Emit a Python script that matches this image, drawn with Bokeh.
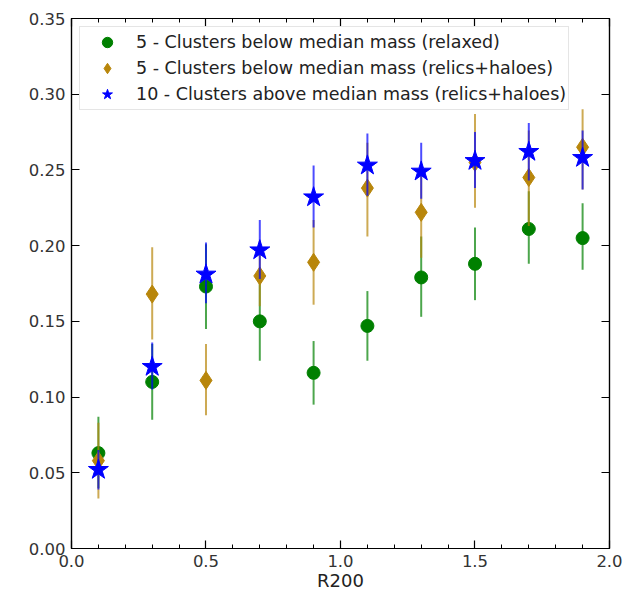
from bokeh.plotting import figure
from bokeh.models import (ColumnDataSource, LinearAxis, SingleIntervalTicker,
                          PrintfTickFormatter, CustomJSTickFormatter, Range1d,
                          Legend, LegendItem)
from bokeh.embed import file_html
from bokeh.resources import INLINE

# ---- data ----
r200 = [0.1, 0.3, 0.5, 0.7, 0.9, 1.1, 1.3, 1.5, 1.7, 1.9]

relaxed_y = [0.063, 0.110, 0.173, 0.150, 0.116, 0.147, 0.179, 0.188, 0.211, 0.205]
relaxed_lo = [0.040, 0.085, 0.145, 0.124, 0.095, 0.124, 0.153, 0.164, 0.188, 0.184]
relaxed_hi = [0.087, 0.135, 0.201, 0.176, 0.137, 0.170, 0.206, 0.212, 0.236, 0.228]

relics_low_y = [0.058, 0.168, 0.111, 0.180, 0.189, 0.238, 0.222, 0.255, 0.245, 0.265]
relics_low_lo = [0.033, 0.138, 0.088, 0.160, 0.161, 0.206, 0.192, 0.225, 0.213, 0.237]
relics_low_hi = [0.083, 0.199, 0.135, 0.203, 0.217, 0.268, 0.252, 0.287, 0.276, 0.290]

relics_high_y = [0.052, 0.120, 0.181, 0.197, 0.232, 0.253, 0.249, 0.256, 0.262, 0.258]
relics_high_lo = [0.039, 0.105, 0.162, 0.178, 0.212, 0.233, 0.231, 0.238, 0.243, 0.237]
relics_high_hi = [0.065, 0.136, 0.202, 0.217, 0.253, 0.274, 0.268, 0.275, 0.281, 0.276]

labels = ["5 - Clusters below median mass (relaxed)",
          "5 - Clusters below median mass (relics+haloes)",
          "10 - Clusters above median mass (relics+haloes)"]

x_ticks_interval = 0.5
y_ticks_interval = 0.05

FONT = "DejaVu Sans"

p = figure(width=630, height=593, output_backend="svg", toolbar_location=None,
           x_range=Range1d(0, 2.000001), y_range=Range1d(0, 0.3500001),
           min_border_left=71, min_border_right=21, min_border_top=18,
           min_border_bottom=43)
p.xaxis.visible = False
p.yaxis.visible = False
p.grid.visible = False
p.outline_line_color = "black"
p.outline_line_width = 1.2
p.background_fill_color = "white"
p.border_fill_color = "white"


def make_axis(kind, show_labels):
    if kind == "x":
        ticker = SingleIntervalTicker(interval=x_ticks_interval, num_minor_ticks=5)
        fmt = "%.1f"
    else:
        ticker = SingleIntervalTicker(interval=y_ticks_interval, num_minor_ticks=0)
        fmt = "%.2f"
    if show_labels:
        formatter = PrintfTickFormatter(format=fmt)
    else:
        formatter = CustomJSTickFormatter(code="return ''")
    ax = LinearAxis(ticker=ticker, formatter=formatter)
    ax.major_tick_in = 8
    ax.major_tick_out = 0
    ax.minor_tick_in = 4
    ax.minor_tick_out = 0
    ax.axis_line_color = "black"
    ax.axis_line_width = 1.2
    ax.major_tick_line_width = 1.2
    ax.major_tick_line_color = "black"
    ax.minor_tick_line_color = "black"
    if kind == "y":
        ax.minor_tick_line_color = None
    ax.major_label_text_font = FONT
    ax.major_label_text_font_size = "16.5px"
    ax.major_label_text_color = "#333333"
    ax.major_label_standoff = 6 if show_labels else 0
    return ax


bottom = make_axis("x", True)
bottom.axis_label = "R200"
bottom.axis_label_text_font = FONT
bottom.axis_label_text_font_size = "18px"
bottom.axis_label_text_font_style = "normal"
bottom.axis_label_text_color = "#222222"
bottom.axis_label_standoff = 0
p.add_layout(bottom, "below")
p.add_layout(make_axis("y", True), "left")
p.add_layout(make_axis("x", False), "above")
p.add_layout(make_axis("y", False), "right")

series = [
    (relaxed_y, relaxed_lo, relaxed_hi, "green", "circle", 13),
    (relics_low_y, relics_low_lo, relics_low_hi, "#b8860b", "diamond", 18),
    (relics_high_y, relics_high_lo, relics_high_hi, "blue", "star", 21),
]

items = []
for (yv, lo, hi, color, marker, size), label in zip(series, labels):
    src = ColumnDataSource(dict(x=r200, y=yv, lo=lo, hi=hi))
    p.segment(x0="x", y0="lo", x1="x", y1="hi", source=src,
              line_color=color, line_width=2, line_alpha=0.7)
    r = p.scatter(x="x", y="y", source=src, marker=marker, size=size,
                  fill_color=color, line_color=color, line_width=1)
    items.append(LegendItem(label=label, renderers=[r]))

legend = Legend(items=items, location="top_left")
legend.margin = 8
legend.padding = 2
legend.spacing = 0
legend.label_height = 24
legend.glyph_height = 26
legend.glyph_width = 50
legend.label_standoff = 4
legend.label_text_font = FONT
legend.label_text_font_size = "17.5px"
legend.label_text_color = "#222222"
legend.border_line_color = "#cccccc"
legend.border_line_width = 1
legend.background_fill_color = "white"
legend.background_fill_alpha = 0.85
p.add_layout(legend, "center")

open("out.html", "w").write(file_html(p, INLINE))
